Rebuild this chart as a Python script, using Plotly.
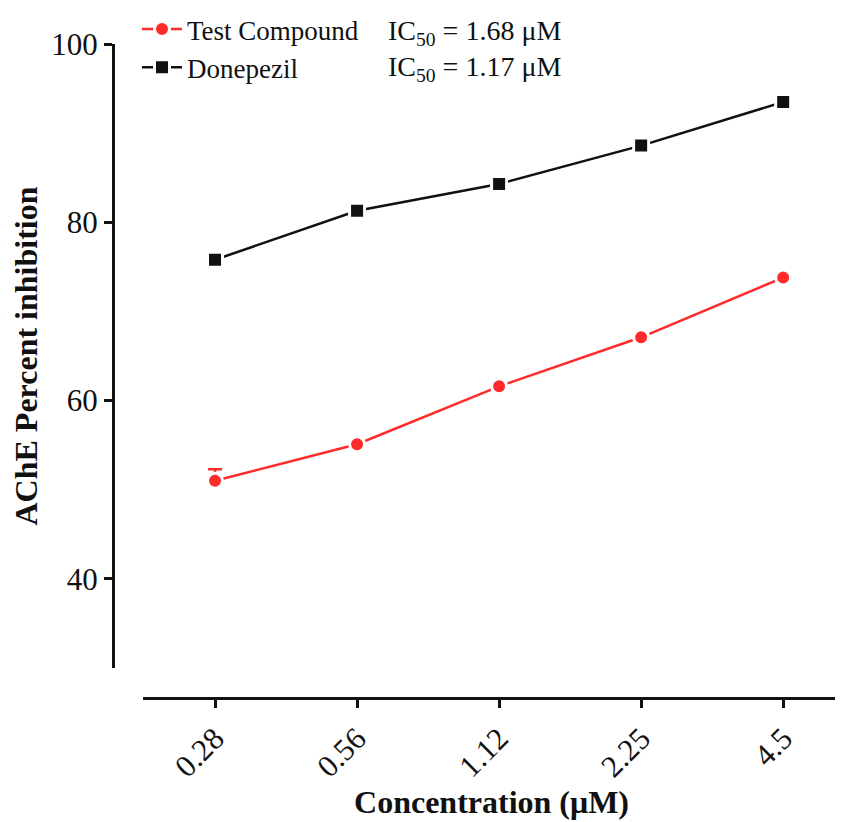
import plotly.graph_objects as go

concentrations = ["0.28", "0.56", "1.12", "2.25", "4.5"]
test_compound = [51.0, 55.1, 61.6, 67.1, 73.8]
test_err_up = [1.3, 0.3, 0.3, 0.3, 0.3]
donepezil = [75.8, 81.3, 84.3, 88.6, 93.5]
donepezil_err_up = [0.3, 0.5, 0.3, 0.3, 0.3]
ic50_labels = ["IC<sub>50</sub> = 1.68 μM", "IC<sub>50</sub> = 1.17 μM"]
y_ticks = [40, 60, 80, 100]

RED = "#FF2B2B"
BLACK = "#111111"
FONT = "Liberation Serif"

# page body has an 8px margin; figure coords = screenshot coords - 8
OFF = 8
W, H = 843 - OFF, 822 - OFF
L, R, T, B = 113 - OFF, 3, 44 - OFF, H - (698 - OFF)
pw, ph = W - L - R, H - T - B


def px_x(sx):
    return (sx - OFF - L) / pw


def px_y(sy):
    return (H - B - (sy - OFF)) / ph


fig = go.Figure()
fig.add_trace(go.Scatter(
    x=concentrations, y=test_compound, name="Test Compound",
    mode="lines+markers",
    line=dict(color=RED, width=2.5),
    marker=dict(symbol="circle", size=15, color=RED, line=dict(color="white", width=3)),
    error_y=dict(type="data", array=test_err_up, arrayminus=[0]*5, symmetric=False,
                 color=RED, thickness=2.5, width=7),
))
fig.add_trace(go.Scatter(
    x=concentrations, y=donepezil, name="Donepezil",
    mode="lines+markers",
    line=dict(color=BLACK, width=2.5),
    marker=dict(symbol="square", size=15, color=BLACK, line=dict(color="white", width=3)),
    error_y=dict(type="data", array=donepezil_err_up, arrayminus=[0]*5, symmetric=False,
                 color=BLACK, thickness=2.5, width=7),
))

for i, txt in enumerate(ic50_labels):
    fig.add_annotation(
        x=px_x(386), y=px_y(32 + 36 * i), xref="paper", yref="paper",
        text=txt, showarrow=False, xanchor="left", yanchor="middle",
        font=dict(family=FONT, size=28, color=BLACK),
    )

fig.update_layout(
    width=W, height=H,
    margin=dict(l=L, r=R, t=T, b=B, autoexpand=False),
    paper_bgcolor="white", plot_bgcolor="white",
    font=dict(family=FONT, color=BLACK),
    showlegend=True,
    legend=dict(
        x=px_x(137), y=px_y(5), xanchor="left", yanchor="top",
        font=dict(family=FONT, size=27, color=BLACK),
        bgcolor="rgba(0,0,0,0)", tracegroupgap=0, itemwidth=40,
    ),
    xaxis=dict(
        type="category", domain=[30 / pw, 1], range=[-0.507, 4.4],
        anchor="free", position=0,
        showline=True, linecolor=BLACK, linewidth=3,
        ticks="outside", ticklen=8, tickwidth=2.5, tickcolor=BLACK,
        tickangle=-45, tickfont=dict(family=FONT, size=31, color=BLACK),
        showgrid=False, zeroline=False,
        title=dict(text="<b>Concentration (μM)</b>", font=dict(family=FONT, size=32, color=BLACK), standoff=2),
    ),
    yaxis=dict(
        domain=[30 / ph, 1], range=[30, 100],
        anchor="free", position=0,
        showline=True, linecolor=BLACK, linewidth=3,
        ticks="outside", ticklen=8, tickwidth=2.5, tickcolor=BLACK,
        tickvals=y_ticks, tickfont=dict(family=FONT, size=31, color=BLACK),
        showgrid=False, zeroline=False,
        title=dict(text="<b>AChE Percent inhibition</b>", font=dict(family=FONT, size=32, color=BLACK), standoff=12),
    ),
)

fig.write_html("out.html")
